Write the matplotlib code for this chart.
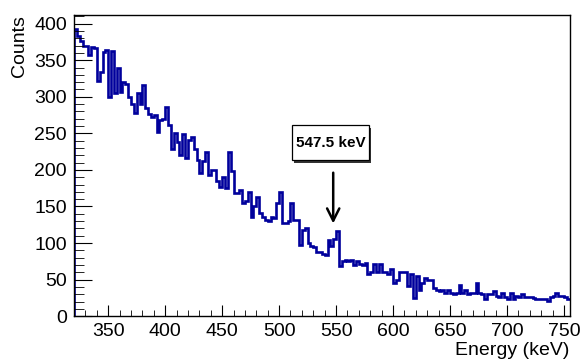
import matplotlib
matplotlib.use('Agg')
import matplotlib.pyplot as plt
import numpy as np

plt.rcParams['font.family'] = ['Liberation Sans', 'DejaVu Sans']

# binning: 2.5 keV bins from 320 keV
e_lo = 320.0
bin_w = 2.5

# counts per bin
counts = [
    393, 383, 376, 370, 370, 357, 368, 367, 321, 334,   # 320 -
    361, 364, 300, 362, 305, 340, 307, 320, 318, 300,   # 345 -
    290, 278, 305, 290, 316, 285, 276, 272, 275, 252,   # 370 -
    268, 270, 286, 262, 228, 250, 238, 220, 249, 216,   # 395 -
    241, 245, 228, 213, 196, 212, 225, 193, 200, 200,   # 420 -
    185, 177, 190, 175, 225, 198, 168, 168, 172, 155,   # 445 -
    158, 170, 136, 150, 163, 141, 136, 132, 130, 136,   # 470 -
    134, 155, 170, 128, 128, 130, 155, 132, 132, 97,    # 495 -
    118, 121, 100, 96, 94, 88, 88, 85, 84, 104,         # 520 -
    96, 106, 116, 68, 75, 77, 75, 77, 70, 75,           # 545 -
    72, 70, 73, 58, 61, 71, 60, 72, 60, 60,             # 570 -
    58, 64, 45, 50, 61, 61, 61, 41, 58, 25,             # 595 -
    55, 36, 45, 52, 50, 50, 39, 36, 34, 36,             # 620 -
    32, 36, 32, 30, 32, 43, 32, 36, 30, 32,             # 645 -
    32, 45, 32, 30, 24, 30, 30, 34, 28, 26,             # 670 -
    32, 26, 24, 32, 24, 28, 26, 30, 26, 26,             # 695 -
    26, 25, 24, 24, 24, 23, 21, 26, 27, 32,             # 720 -
    28, 28, 26, 24, 24,                                 # 745 -
]
edges = e_lo + bin_w * np.arange(len(counts) + 1)

peak_label = '547.5 keV'
peak_e = 547.5

fig = plt.figure(figsize=(5.83, 3.63), dpi=100)
ax = fig.add_axes([0.127, 0.129, 0.850, 0.830])

ax.stairs(counts, edges, color='#00009c', lw=1.9)

ax.set_xlim(320, 755)
ax.set_ylim(0, 412)
ax.set_xticks(np.arange(350, 751, 50))
ax.set_xticks(np.arange(330, 755, 10), minor=True)
ax.set_yticks(np.arange(0, 401, 50))
ax.set_yticks(np.arange(0, 411, 10), minor=True)

ax.tick_params(which='both', direction='in', top=False, right=False, labelsize=14)
ax.tick_params(axis='x', which='major', length=8, pad=5)
ax.tick_params(axis='x', which='minor', length=4)
ax.tick_params(axis='y', which='major', length=13, pad=5)
ax.tick_params(axis='y', which='minor', length=7)
for s in ax.spines.values():
    s.set_linewidth(1.0)

ax.set_xlabel('Energy (keV)', fontsize=14, loc='right')
ax.xaxis.set_label_coords(1.0, -0.085)
ax.set_ylabel('Counts', fontsize=14, loc='top')
ax.yaxis.set_label_coords(-0.092, 1.0)

# arrow pointing at the peak
ax.annotate('', xy=(peak_e, 123), xytext=(peak_e, 200),
            arrowprops=dict(arrowstyle='->', color='black', lw=1.8,
                            mutation_scale=22))

# label box with a drop shadow (pave style)
bx0, bx1, by0, by1 = 511.0, 579.0, 213.0, 261.0
ax.add_patch(plt.Rectangle((bx0 + 2.0, by0 - 3.0), bx1 - bx0, by1 - by0,
                           fc='#333333', ec='none', zorder=4))
ax.add_patch(plt.Rectangle((bx0, by0), bx1 - bx0, by1 - by0,
                           fc='white', ec='black', lw=0.9, zorder=5))
ax.text((bx0 + bx1) / 2, (by0 + by1) / 2, peak_label, fontsize=11,
        fontweight='bold', ha='center', va='center', zorder=6)

fig.savefig('out.png', dpi=100)
